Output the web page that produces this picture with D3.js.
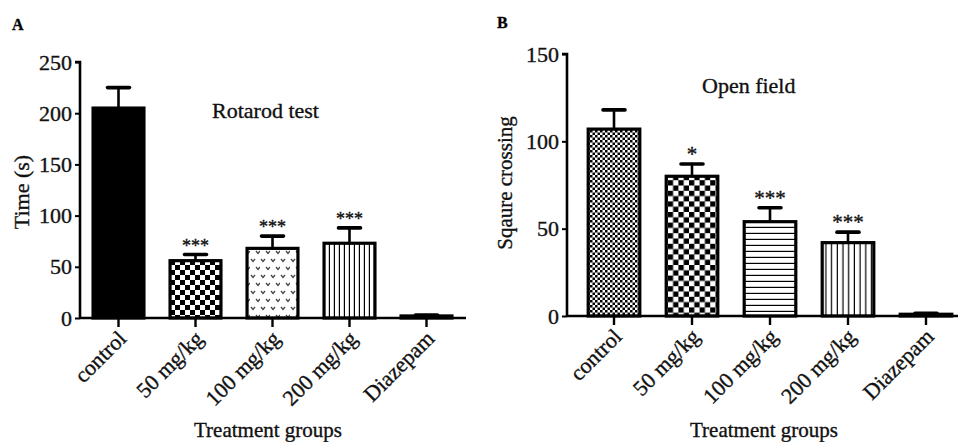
<!DOCTYPE html>
<html>
<head>
<meta charset="utf-8">
<script src="https://cdn.jsdelivr.net/npm/d3@7"></script>
<style>
  body { margin: 0; background: #fff; }
  svg { display: block; font-family: "Liberation Serif", "Times New Roman", serif; }
  svg text { stroke: #111; stroke-width: 0.35px; }
</style>
</head>
<body>
<div id="app"></div>
<script>
// data
const groups = ["control", "50 mg/kg", "100 mg/kg", "200 mg/kg", "Diazepam"]
const rotarodMean = [205, 56, 68, 73, 2]
const rotarodSem = [20, 6, 12, 15, 1]
const rotarodSig = ["", "***", "***", "***", ""]
const openFieldMean = [107, 80, 54, 42, 1]
const openFieldSem = [11, 7, 8, 6, 0.5]
const openFieldSig = ["", "*", "***", "***", ""]
const rotarodTicks = [0, 50, 100, 150, 200, 250]
const openFieldTicks = [0, 50, 100, 150]

const svg = d3.select("#app")
  .append("svg")
    .attr("width", 958)
    .attr("height", 442)

// fill patterns
const defs = svg.append("defs")

function checker(id, s) {
  const p = defs.append("pattern")
      .attr("id", id)
      .attr("patternUnits", "userSpaceOnUse")
      .attr("width", s * 2)
      .attr("height", s * 2)
  p.append("rect").attr("width", s * 2).attr("height", s * 2).attr("fill", "#fff")
  p.append("rect").attr("width", s).attr("height", s).attr("fill", "#000")
  p.append("rect").attr("x", s).attr("y", s).attr("width", s).attr("height", s).attr("fill", "#000")
}
function lines(id, s, vertical) {
  const p = defs.append("pattern")
      .attr("id", id)
      .attr("patternUnits", "userSpaceOnUse")
      .attr("width", s)
      .attr("height", s)
  p.append("rect").attr("width", s).attr("height", s).attr("fill", "#fff")
  if (vertical) p.append("rect").attr("x", s - 1.2).attr("width", 1.2).attr("height", s).attr("fill", "#000")
  else p.append("rect").attr("y", s - 1.2).attr("width", s).attr("height", 1.2).attr("fill", "#000")
}
checker("chkA", 5)
checker("chkFine", 2.5)
checker("chkB", 5.3)
lines("vlA", 5, true)
lines("vlB", 5.7, true)
lines("hlB", 6, false)
{
  const p = defs.append("pattern")
      .attr("id", "hearts")
      .attr("patternUnits", "userSpaceOnUse")
      .attr("width", 10)
      .attr("height", 16)
  p.append("rect").attr("width", 10).attr("height", 16).attr("fill", "#fff")
  p.append("path").attr("d", "M1,3 L3,5.5 L5,3 M6,11 L8,13.5 L10,11")
    .attr("fill", "none").attr("stroke", "#444").attr("stroke-width", 1.3)
}

function panel(o) {
  const g = svg.append("g")
  const x = d3.scaleBand().domain(groups).range(o.xr).paddingInner(0.3).paddingOuter(0.15)
  const y = d3.scaleLinear().domain(o.yd).range(o.yr)
  const base = y(0)

  // bars
  g.selectAll("rect.bar")
    .data(groups)
    .join("rect")
      .attr("class", "bar")
      .attr("x", d => x(d) + 1.5)
      .attr("width", x.bandwidth() - 3)
      .attr("y", (d, i) => y(o.mean[i]))
      .attr("height", (d, i) => base - y(o.mean[i]))
      .attr("fill", (d, i) => o.fills[i])
      .attr("stroke", "#000")
      .attr("stroke-width", 3.2)

  // error bars (upper only)
  const eb = g.append("g").attr("stroke", "#000").attr("stroke-linecap", "round")
  eb.selectAll("line.v")
    .data(groups)
    .join("line")
      .attr("class", "v")
      .attr("x1", d => x(d) + x.bandwidth() / 2)
      .attr("x2", d => x(d) + x.bandwidth() / 2)
      .attr("y1", (d, i) => y(o.mean[i]))
      .attr("y2", (d, i) => y(o.mean[i] + o.sem[i]))
      .attr("stroke-width", 2.6)
  eb.selectAll("line.c")
    .data(groups)
    .join("line")
      .attr("class", "c")
      .attr("x1", d => x(d) + x.bandwidth() / 2 - 11)
      .attr("x2", d => x(d) + x.bandwidth() / 2 + 11)
      .attr("y1", (d, i) => y(o.mean[i] + o.sem[i]))
      .attr("y2", (d, i) => y(o.mean[i] + o.sem[i]))
      .attr("stroke-width", 3.6)

  // significance stars
  g.selectAll("text.sig")
    .data(groups)
    .join("text")
      .attr("class", "sig")
      .attr("x", d => x(d) + x.bandwidth() / 2)
      .attr("y", (d, i) => y(o.mean[i] + o.sem[i]) - o.sigOff)
      .attr("text-anchor", "middle")
      .attr("font-size", o.sigSize)
      .attr("fill", "#111")
      .text((d, i) => o.sig[i])

  // y axis
  const ya = g.append("g")
    .attr("transform", `translate(${o.yAxisX},0)`)
    .call(d3.axisLeft(y).tickValues(o.ticks).tickSize(5).tickPadding(3).tickFormat(d3.format("d")))
  ya.select(".domain").attr("stroke-width", 2.6).attr("d", `M-5,${y(o.yd[1])}H0V${base}`)
  ya.selectAll(".tick line").attr("stroke-width", 2)
  ya.selectAll(".tick text").attr("font-size", 22).attr("font-family", "Liberation Serif").attr("fill", "#111")

  // x axis
  const xa = g.append("g")
    .attr("transform", `translate(0,${base})`)
    .call(d3.axisBottom(x).tickSize(9).tickFormat(""))
  xa.select(".domain").attr("stroke-width", 2.6).attr("d", `M${o.yAxisX},0H${o.xEnd}`)
  xa.selectAll(".tick line").attr("stroke-width", 2.4)

  g.selectAll("text.xl")
    .data(groups)
    .join("text")
      .attr("class", "xl")
      .attr("transform", d => `translate(${x(d) + x.bandwidth() / 2 + 9},${base + 22}) rotate(-45)`)
      .attr("text-anchor", "end")
      .attr("font-size", 22)
      .attr("fill", "#111")
      .text(d => d)

  g.append("text")
    .attr("x", o.xTitleX)
    .attr("y", 437)
    .attr("text-anchor", "middle")
    .attr("font-size", 21)
    .attr("fill", "#111")
    .text("Treatment groups")

  g.append("text")
    .attr("transform", `translate(${o.yTitle[0]},${o.yTitle[1]}) rotate(-90)`)
    .attr("text-anchor", "middle")
    .attr("font-size", o.yTitleSize)
    .attr("fill", "#111")
    .text(o.yLabel)

  g.append("text")
    .attr("x", o.title[0])
    .attr("y", o.title[1])
    .attr("font-size", 22)
    .attr("fill", "#111")
    .text(o.titleText)

  g.append("text")
    .attr("x", o.letter[0])
    .attr("y", o.letter[1])
    .attr("font-size", 16)
    .attr("font-weight", "bold")
    .text(o.letterText)
}

panel({
  xr: [80, 465], yd: [0, 250], yr: [318, 62], yAxisX: 80, xEnd: 466,
  mean: rotarodMean, sem: rotarodSem, sig: rotarodSig, ticks: rotarodTicks,
  fills: ["#000", "url(#chkA)", "url(#hearts)", "url(#vlA)", "#000"],
  sigOff: 3, sigSize: 18,
  xTitleX: 268, yTitle: [29, 192], yTitleSize: 22, yLabel: "Time (s)",
  title: [212, 118], titleText: "Rotarod test",
  letter: [12, 30], letterText: "A"
})

panel({
  xr: [575, 965], yd: [0, 150], yr: [316, 54], yAxisX: 567, xEnd: 958,
  mean: openFieldMean, sem: openFieldSem, sig: openFieldSig, ticks: openFieldTicks,
  fills: ["url(#chkFine)", "url(#chkB)", "url(#hlB)", "url(#vlB)", "#000"],
  sigOff: 3, sigSize: 21,
  xTitleX: 764, yTitle: [512, 183], yTitleSize: 21, yLabel: "Sqaure crossing",
  title: [702, 93], titleText: "Open field",
  letter: [497, 28], letterText: "B"
})
</script>
</body>
</html>
